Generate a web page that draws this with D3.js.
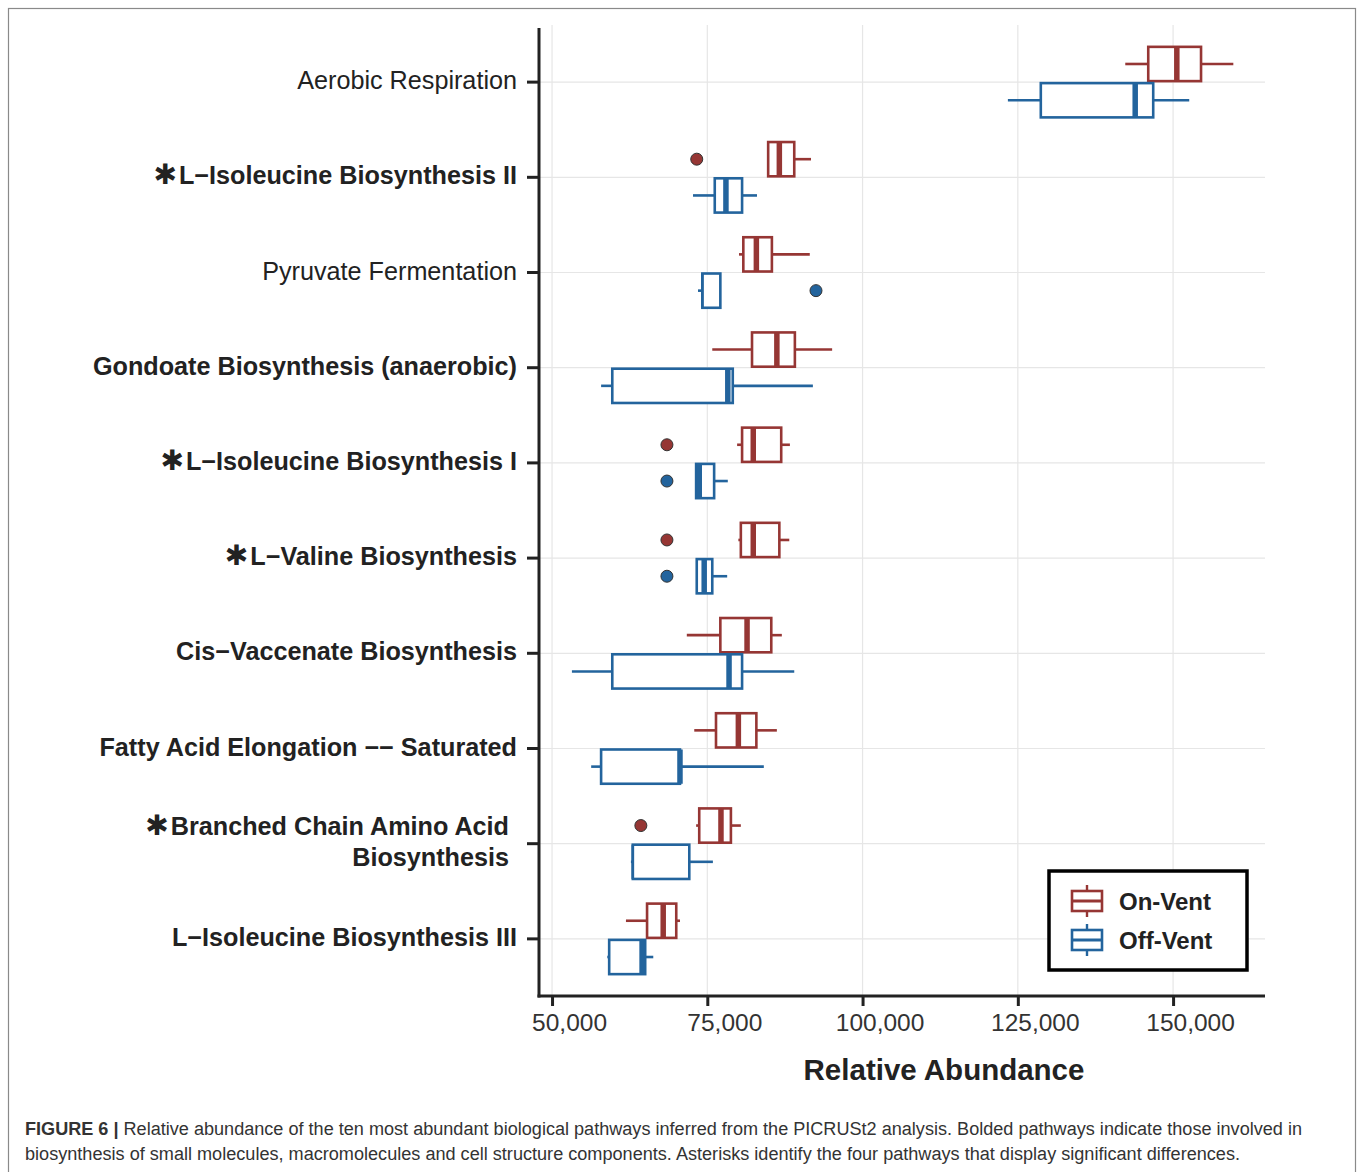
<!DOCTYPE html>
<html><head><meta charset="utf-8">
<script src="https://cdn.jsdelivr.net/npm/d3@7"></script>
<style>body{margin:0;background:#fff;}svg{display:block;font-family:"Liberation Sans",Arial,Helvetica,sans-serif;}</style>
</head><body>
<svg id="chart" width="1358" height="1172"></svg>
<script>
// ---- data ----
const categories = ["Aerobic Respiration","L\u2212Isoleucine Biosynthesis II","Pyruvate Fermentation","Gondoate Biosynthesis (anaerobic)","L\u2212Isoleucine Biosynthesis I","L\u2212Valine Biosynthesis","Cis\u2212Vaccenate Biosynthesis","Fatty Acid Elongation \u2212\u2212 Saturated","Branched Chain Amino Acid|Biosynthesis","L\u2212Isoleucine Biosynthesis III"];
const boldLabel = [false,true,false,true,true,true,true,true,true,true];
const starLabel = [false,true,false,false,true,true,false,false,true,false];
const seriesNames = ["On-Vent","Off-Vent"];
// On-Vent: lower whisker, Q1, median, Q3, upper whisker
const onLow  = [142300,84800,80100,75800,79800,80000,71700,72900,73200,61900];
const onQ1   = [146000,84800,80800,82200,80600,80400,77100,76400,73700,65300];
const onMed  = [150600,86600,82900,86200,82400,82400,81400,80000,77200,67900];
const onQ3   = [154500,89000,85400,89100,86900,86600,85300,82900,78800,70000];
const onHigh = [159700,91700,91500,95100,88300,88200,87000,86200,80400,70600];
const onOutliers = [[],[73300],[],[],[68500],[68500],[],[],[64300],[]];
// Off-Vent
const offLow  = [123400,72700,73500,57900,73200,73300,53200,56300,62700,58900];
const offQ1   = [128700,76200,74200,59700,73200,73300,59700,57900,63000,59200];
const offMed  = [143900,78000,74200,78300,73700,74500,78500,70600,63000,64500];
const offQ3   = [146800,80600,77100,79100,76100,75800,80600,70600,72100,65000];
const offHigh = [152600,83000,77100,92000,78300,78200,89000,84100,75900,66300];
const offOutliers = [[],[],[92500],[],[68500],[68500],[],[],[],[]];
const xTicks = [50000,75000,100000,125000,150000];

// ---- layout ----
const colors = ["#963634","#23649d"];
const svg = d3.select("#chart");
const L = 539, R = 1265, T = 25, B = 996;
const x = d3.scaleLinear().domain([47900,164800]).range([L,R]);
const y = d3.scalePoint().domain(categories).range([T,B]).padding(0.6);
const step = y.step();
const boxH = step*0.36;

// frame
svg.append("rect").attr("x",8.5).attr("y",8.5).attr("width",1347).attr("height",1200)
  .attr("fill","none").attr("stroke","#8a8a8a").attr("stroke-width",1.2);

// grid
const g = svg.append("g");
g.selectAll(".vg").data(xTicks).join("line").attr("x1",d=>x(d)).attr("x2",d=>x(d))
  .attr("y1",T).attr("y2",B).attr("stroke","#e6e6e6").attr("stroke-width",1.2);
g.selectAll(".hg").data(categories).join("line").attr("x1",L).attr("x2",R)
  .attr("y1",d=>y(d)).attr("y2",d=>y(d)).attr("stroke","#e6e6e6").attr("stroke-width",1.2);

// boxes
function drawSeries(si, low, q1, med, q3, high, outs){
  const c = colors[si];
  categories.forEach((cat,i)=>{
    const cy = y(cat);
    const top = si===0 ? cy - 1 - boxH : cy + 1;
    const mid = top + boxH/2;
    const gg = svg.append("g");
    if (low[i] < q1[i]) gg.append("line").attr("x1",x(low[i])).attr("x2",x(q1[i])).attr("y1",mid).attr("y2",mid).attr("stroke",c).attr("stroke-width",2.6);
    if (high[i] > q3[i]) gg.append("line").attr("x1",x(q3[i])).attr("x2",x(high[i])).attr("y1",mid).attr("y2",mid).attr("stroke",c).attr("stroke-width",2.6);
    gg.append("rect").attr("x",x(q1[i])).attr("y",top).attr("width",x(q3[i])-x(q1[i])).attr("height",boxH)
      .attr("fill","#fff").attr("stroke",c).attr("stroke-width",2.6);
    const mw = (med[i]===q1[i]) ? 2.6 : 5.5;
    gg.append("line").attr("x1",x(med[i])).attr("x2",x(med[i])).attr("y1",top).attr("y2",top+boxH)
      .attr("stroke",c).attr("stroke-width",mw);
    outs[i].forEach(o=>{
      gg.append("circle").attr("cx",x(o)).attr("cy",mid).attr("r",6)
        .attr("fill",c).attr("stroke","#333").attr("stroke-width",1);
    });
  });
}
drawSeries(0,onLow,onQ1,onMed,onQ3,onHigh,onOutliers);
drawSeries(1,offLow,offQ1,offMed,offQ3,offHigh,offOutliers);

// axes
const ax = svg.append("g").attr("transform",`translate(0,${B})`).call(d3.axisBottom(x).tickValues(xTicks).tickSize(10).tickPadding(4).tickFormat(d3.format(",")));
ax.select(".domain").remove();
ax.selectAll(".tick line").attr("stroke","#222").attr("stroke-width",3);
ax.selectAll(".tick text").attr("font-size",24.5).attr("fill","#333").attr("dy","0.85em").attr("dx",17)
  .style("font-family","'Liberation Sans Narrow','Liberation Sans',Arial,sans-serif");
svg.append("line").attr("x1",L-1.5).attr("x2",R).attr("y1",B).attr("y2",B).attr("stroke","#222").attr("stroke-width",3);
svg.append("line").attr("x1",L).attr("x2",L).attr("y1",T+3).attr("y2",B+1.5).attr("stroke","#222").attr("stroke-width",3);

// y ticks + labels
categories.forEach((cat,i)=>{
  const cy = y(cat);
  svg.append("line").attr("x1",L-12).attr("x2",L).attr("y1",cy).attr("y2",cy).attr("stroke","#222").attr("stroke-width",3);
  const parts = cat.split("|");
  const lineH = 31;
  const endX = parts.length>1 ? 509 : 517;
  parts.forEach((p,k)=>{
    const t = svg.append("text").attr("x",endX).attr("text-anchor","end")
      .attr("y", cy - 2 + (k-(parts.length-1)/2)*lineH).attr("dy","0.36em")
      .attr("font-size",25.2).attr("font-weight",boldLabel[i]?"bold":"normal").attr("fill","#222");
    if (k===0 && starLabel[i]) t.append("tspan").text("\u2731").attr("font-family","'DejaVu Sans',sans-serif").attr("font-size",28);
    t.append("tspan").text(p).attr("dx", (k===0&&starLabel[i])?2:0);
  });
});

// x title
svg.append("text").attr("x",944).attr("y",1080).attr("text-anchor","middle").attr("font-size",29.5)
  .attr("font-weight","bold").attr("fill","#222").text("Relative Abundance");

// legend
const lg = svg.append("g");
lg.append("rect").attr("x",1049).attr("y",871).attr("width",198).attr("height",99).attr("fill","#fff")
  .attr("stroke","#000").attr("stroke-width",3.5);
seriesNames.forEach((s,i)=>{
  const cy = 901 + i*39;
  const c = colors[i];
  lg.append("line").attr("x1",1087).attr("x2",1087).attr("y1",cy-16).attr("y2",cy+16).attr("stroke",c).attr("stroke-width",2.4);
  lg.append("rect").attr("x",1072).attr("y",cy-10).attr("width",30).attr("height",20).attr("fill","#fff").attr("stroke",c).attr("stroke-width",2.6);
  lg.append("line").attr("x1",1072).attr("x2",1102).attr("y1",cy).attr("y2",cy).attr("stroke",c).attr("stroke-width",3);
  lg.append("text").attr("x",1119).attr("y",cy).attr("dy","0.36em").attr("font-size",24).attr("font-weight","bold").attr("fill","#222").text(s);
});

// caption
const capFont = "'Liberation Sans Narrow','Liberation Sans',Arial,sans-serif";
const cap1 = svg.append("text").attr("x",25).attr("y",1135).attr("font-size",18).attr("fill","#333")
  .attr("textLength",1277).attr("lengthAdjust","spacingAndGlyphs").style("font-family",capFont);
cap1.append("tspan").attr("font-weight","bold").text("FIGURE 6 | ");
cap1.append("tspan").text("Relative abundance of the ten most abundant biological pathways inferred from the PICRUSt2 analysis. Bolded pathways indicate those involved in");
svg.append("text").attr("x",25).attr("y",1160).attr("font-size",18).attr("fill","#333")
  .attr("textLength",1215).attr("lengthAdjust","spacingAndGlyphs").style("font-family",capFont)
  .text("biosynthesis of small molecules, macromolecules and cell structure components. Asterisks identify the four pathways that display significant differences.");
</script>
</body></html>
